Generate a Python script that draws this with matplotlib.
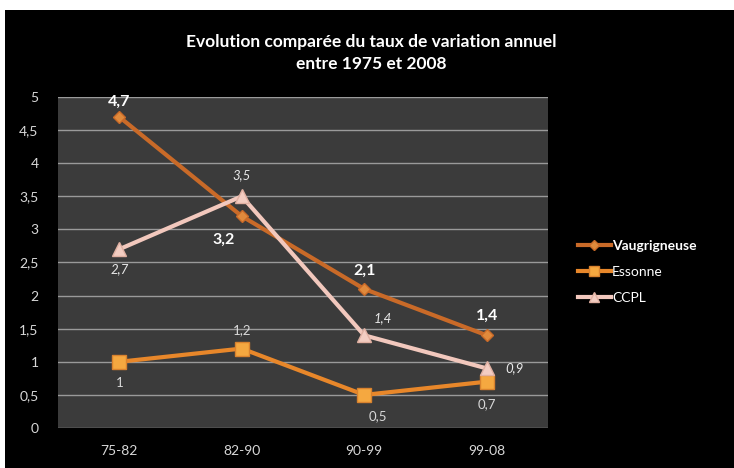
import matplotlib
matplotlib.use("Agg")
import matplotlib.pyplot as plt
from matplotlib.patches import Rectangle

plt.rcParams['font.family'] = ['Lato', 'DejaVu Sans']

# --- Data ---
periods = ["75-82", "82-90", "90-99", "99-08"]
vaugrigneuse = [4.7, 3.2, 2.1, 1.4]
essonne = [1.0, 1.2, 0.5, 0.7]
ccpl = [2.7, 3.5, 1.4, 0.9]
y_ticks = [0, 0.5, 1, 1.5, 2, 2.5, 3, 3.5, 4, 4.5, 5]

TITLE = "Evolution comparée du taux de variation annuel\nentre 1975 et 2008"


def fr(v):
    """French decimal format: 4.7 -> '4,7', 1.0 -> '1'."""
    s = f"{v:g}"
    return s.replace(".", ",")


fig = plt.figure(figsize=(7.34, 4.68), dpi=100)
fig.patch.set_facecolor("white")
# black chart background, leaving a thin white margin top/left like the screenshot
fig.patches.append(Rectangle((5 / 734, 0), 1, 1 - 10 / 468, transform=fig.transFigure,
                             facecolor="black", edgecolor="none", zorder=-5))

ax = fig.add_axes([58 / 734, 40 / 468, 490 / 734, 331 / 468])
ax.set_facecolor("#3b3b3b")

x = list(range(len(periods)))

ax.plot(x, essonne, color="#e8872a", lw=3, marker="s", ms=9.5,
        markerfacecolor="#f5a840", markeredgecolor="#d9822e", label="Essonne", zorder=3)
ax.plot(x, vaugrigneuse, color="#c96a28", lw=3, marker="D", ms=6.5,
        markerfacecolor="#e08a3c", markeredgecolor="#c96a28", label="Vaugrigneuse", zorder=4)
ax.plot(x, ccpl, color="#f2c8bd", lw=3, marker="^", ms=10,
        markerfacecolor="#f3cdc2", markeredgecolor="#e0b0a2", label="CCPL", zorder=5)

# data labels
v_off = [(0, 11), (-13, -17), (0, 13), (0, 14)]
for xi, v, (dx, dy) in zip(x, vaugrigneuse, v_off):
    ax.annotate(fr(v), (xi, v), xytext=(dx, dy), textcoords="offset points",
                ha="center", va="center", color="white", fontsize=11.5, fontweight="bold")
c_off = [(0, -14), (0, 15), (13, 12), (20, 0)]
for xi, v, (dx, dy) in zip(x, ccpl, c_off):
    ax.annotate(fr(v), (xi, v), xytext=(dx, dy), textcoords="offset points",
                ha="center", va="center", color="#e8e8e8", fontsize=9.5, fontstyle="italic")
e_off = [(0, -15), (0, 13), (10, -15), (0, -16)]
for xi, v, (dx, dy) in zip(x, essonne, e_off):
    ax.annotate(fr(v), (xi, v), xytext=(dx, dy), textcoords="offset points",
                ha="center", va="center", color="#d8d8d8", fontsize=9.5)

ax.set_xlim(-0.5, len(periods) - 0.5)
ax.set_ylim(0, 5)
ax.set_yticks(y_ticks)
ax.set_yticklabels([fr(t) for t in y_ticks])
ax.set_xticks(x)
ax.set_xticklabels(periods)
ax.tick_params(colors="#d8d8d8", labelsize=10, length=0)
ax.tick_params(axis="y", pad=14)
ax.tick_params(axis="x", pad=12)
ax.yaxis.grid(True, color="#9a9a9a", lw=1)
ax.set_axisbelow(True)
for sp in ax.spines.values():
    sp.set_visible(False)

fig.text(371 / 734, 1 - 53 / 468, TITLE, ha="center", va="center", color="white",
         fontsize=12.5, fontweight="bold", linespacing=1.4)

handles, labels = ax.get_legend_handles_labels()
order = [1, 0, 2]
leg = fig.legend([handles[i] for i in order], [labels[i] for i in order],
                 loc="center left", bbox_to_anchor=(565 / 734, 1 - 272 / 468),
                 frameon=False, fontsize=10, labelcolor="white",
                 handlelength=2.4, handletextpad=0.1, labelspacing=1.0, markerscale=0.75)
leg.get_texts()[0].set_fontweight("bold")

fig.savefig("out.png", dpi=100, facecolor=fig.get_facecolor())
